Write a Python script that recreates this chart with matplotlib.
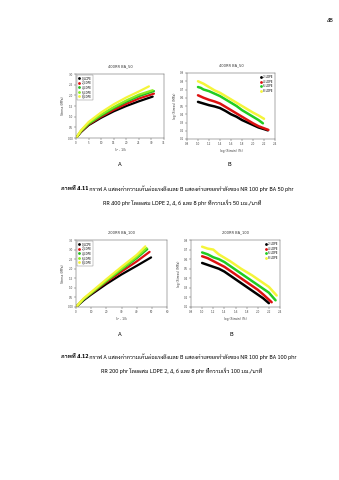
import matplotlib
matplotlib.use("Agg")
import matplotlib.pyplot as plt
from matplotlib import font_manager
from matplotlib.ft2font import FT2Font

# pick a font that has Thai glyphs, preferring the usual thesis-like faces
names = {f.name for f in font_manager.fontManager.ttflist}
THAI = None
for cand in ["Sarabun", "Noto Sans Thai", "Noto Sans Thai Looped", "Bai Jamjuree", "Anuphan"]:
    if cand in names:
        THAI = cand
        break
if THAI is None:
    for f in font_manager.fontManager.ttflist:
        try:
            if 0x0E01 in FT2Font(f.fname).get_charmap():
                THAI = f.name
                break
        except Exception:
            pass
FAM = ([THAI] if THAI else []) + ["DejaVu Sans"]

# ---- data: chart A (stress vs lambda term) ----
a_labels = ["0_LDPE", "2_LDPE", "4_LDPE", "6_LDPE", "8_LDPE"]
a_colors = ["black", "#dd1111", "#22bb22", "#88ee22", "#f5f53a"]

a1_x = [
    [0, 2, 5, 10, 15, 20, 25, 30.5],
    [0, 2, 5, 10, 15, 20, 25, 31],
    [0, 2, 5, 10, 15, 20, 25, 31],
    [0, 2, 5, 10, 15, 20, 25, 30.5],
    [0, 2, 5, 10, 15, 20, 25, 29],
]
a1_y = [
    [0, 0.28, 0.60, 0.95, 1.25, 1.50, 1.72, 1.94],
    [0, 0.30, 0.63, 1.00, 1.32, 1.60, 1.85, 2.08],
    [0, 0.32, 0.66, 1.05, 1.40, 1.70, 1.96, 2.20],
    [0, 0.34, 0.70, 1.10, 1.45, 1.76, 2.03, 2.24],
    [0, 0.36, 0.75, 1.20, 1.58, 1.90, 2.18, 2.42],
]

a2_x = [
    [0, 5, 10, 20, 30, 40, 49.5],
    [0, 5, 10, 20, 30, 40, 48.5],
    [0, 5, 10, 20, 30, 40, 47],
    [0, 5, 10, 20, 30, 40, 46.5],
    [0, 5, 10, 20, 30, 40, 45.7],
]
a2_y = [
    [0, 0.35, 0.65, 1.20, 1.70, 2.15, 2.59],
    [0, 0.40, 0.70, 1.30, 1.85, 2.38, 2.88],
    [0, 0.40, 0.72, 1.35, 1.95, 2.55, 3.02],
    [0, 0.42, 0.74, 1.38, 2.00, 2.62, 3.08],
    [0, 0.45, 0.78, 1.45, 2.10, 2.72, 3.17],
]

# ---- data: chart B (log-log) ----
b_labels = ["2 LDPE", "4 LDPE", "6 LDPE", "8 LDPE"]
b_colors = ["black", "#dd1111", "#22cc22", "#f5f53a"]

b1_x = [
    [1.0, 1.05, 1.1, 1.2, 1.3, 1.4, 1.5, 1.6, 1.7, 1.8, 1.9, 2.0, 2.1, 2.2, 2.27],
    [1.0, 1.1, 1.2, 1.3, 1.4, 1.5, 1.6, 1.7, 1.8, 1.9, 2.0, 2.1, 2.2, 2.28],
    [1.0, 1.05, 1.1, 1.2, 1.3, 1.4, 1.5, 1.6, 1.7, 1.8, 1.9, 2.0, 2.1, 2.18],
    [1.0, 1.1, 1.2, 1.3, 1.4, 1.5, 1.6, 1.7, 1.8, 1.9, 2.0, 2.1, 2.2],
]
b1_y = [
    [0.55, 0.54, 0.53, 0.51, 0.495, 0.475, 0.44, 0.40, 0.37, 0.33, 0.30, 0.27, 0.24, 0.22, 0.205],
    [0.63, 0.60, 0.575, 0.555, 0.53, 0.49, 0.45, 0.41, 0.37, 0.33, 0.29, 0.255, 0.23, 0.21],
    [0.73, 0.72, 0.70, 0.68, 0.65, 0.62, 0.58, 0.54, 0.50, 0.45, 0.41, 0.37, 0.33, 0.29],
    [0.80, 0.77, 0.73, 0.69, 0.66, 0.62, 0.58, 0.54, 0.50, 0.46, 0.42, 0.385, 0.345],
]

b2_x = [
    [1.0, 1.1, 1.2, 1.3, 1.4, 1.5, 1.6, 1.7, 1.8, 1.9, 2.0, 2.1, 2.2],
    [1.0, 1.1, 1.2, 1.3, 1.4, 1.5, 1.6, 1.7, 1.8, 1.9, 2.0, 2.1, 2.25],
    [1.0, 1.1, 1.2, 1.3, 1.4, 1.5, 1.6, 1.7, 1.8, 1.9, 2.0, 2.1, 2.2, 2.32],
    [1.0, 1.1, 1.2, 1.3, 1.4, 1.5, 1.6, 1.7, 1.8, 1.9, 2.0, 2.1, 2.2, 2.34],
]
b2_y = [
    [0.56, 0.54, 0.52, 0.50, 0.47, 0.43, 0.39, 0.35, 0.31, 0.27, 0.23, 0.19, 0.14],
    [0.63, 0.61, 0.58, 0.55, 0.52, 0.48, 0.44, 0.40, 0.36, 0.32, 0.28, 0.23, 0.15],
    [0.67, 0.65, 0.62, 0.60, 0.57, 0.53, 0.49, 0.45, 0.41, 0.37, 0.33, 0.29, 0.25, 0.17],
    [0.73, 0.71, 0.70, 0.65, 0.615, 0.58, 0.54, 0.50, 0.465, 0.43, 0.39, 0.35, 0.31, 0.22],
]

cap1 = ["ภาพที่ 4.11", " กราฟ A แสดงค่าความเค้นต่อแรงดึงและ B แสดงค่าเลขยกกำลังของ NR 100 phr BA 50 phr",
        "RR 400 phr โดยผสม LDPE 2, 4, 6 และ 8 phr ที่ความเร็ว 50 มม./นาที"]
cap2 = ["ภาพที่ 4.12", " กราฟ A แสดงค่าความเค้นต่อแรงดึงและ B แสดงค่าเลขยกกำลังของ NR 100 phr BA 100 phr",
        "RR 200 phr โดยผสม LDPE 2, 4, 6 และ 8 phr ที่ความเร็ว 100 มม./นาที"]

W, H = 339, 480
fig = plt.figure(figsize=(W / 100, H / 100), dpi=100)
fig.patch.set_facecolor("white")


def box(l, t, r, b):
    return [l / W, 1 - b / H, (r - l) / W, (b - t) / H]


def style(ax):
    for s in ax.spines.values():
        s.set_linewidth(0.35)
        s.set_color("#555555")
    ax.tick_params(labelsize=2.0, length=1.2, width=0.3, pad=0.8, colors="#444444")


def dot_legend(ax, loc, frame):
    leg = ax.legend(loc=loc, fontsize=2.0, frameon=frame, handlelength=0.6,
                    borderpad=0.4, labelspacing=0.2, fancybox=False,
                    borderaxespad=0.4, handletextpad=0.6)
    for h in leg.get_lines():
        h.set_linestyle("none")
        h.set_marker("o")
        h.set_markersize(1.0)
    if frame:
        leg.get_frame().set_linewidth(0.3)
        leg.get_frame().set_edgecolor("#555555")
    return leg


def chart_a(rect, xs, ys, xmax, xstep, ymax, title):
    ax = fig.add_axes(box(*rect))
    for x, y, c, lab in zip(xs, ys, a_colors, a_labels):
        ax.plot(x, y, "-", color=c, lw=1.6, label=lab, solid_capstyle="round")
    ax.set_xlim(0, xmax)
    ax.set_ylim(0, ymax)
    ax.set_xticks([i * xstep for i in range(int(xmax / xstep) + 1)])
    yt = [i * 0.5 for i in range(int(ymax / 0.5) + 1)]
    ax.set_yticks(yt)
    ax.set_yticklabels(["0.00"] + [f"{v:.1f}" for v in yt[1:]])
    ax.set_title(title, fontsize=2.6, pad=5, color="#333333")
    ax.set_xlabel("λ² - 1/λ", fontsize=2.2, labelpad=2, color="#333333")
    ax.set_ylabel("Stress (MPa)", fontsize=2.2, labelpad=2, color="#333333")
    style(ax)
    dot_legend(ax, "upper left", True)
    return ax


def chart_b(rect, xs, ys, ymin, ymax, title):
    ax = fig.add_axes(box(*rect))
    for x, y, c, lab in zip(xs, ys, b_colors, b_labels):
        ax.plot(x, y, "-", color=c, lw=1.8, label=lab, solid_capstyle="round")
    ax.set_xlim(0.8, 2.4)
    ax.set_ylim(ymin, ymax)
    ax.set_xticks([0.8, 1.0, 1.2, 1.4, 1.6, 1.8, 2.0, 2.2, 2.4])
    n = int(round((ymax - ymin) / 0.1))
    ax.set_yticks([round(ymin + 0.1 * i, 1) for i in range(n + 1)])
    ax.set_title(title, fontsize=2.6, pad=5, color="#333333")
    ax.set_xlabel("log (Strain) (%)", fontsize=2.2, labelpad=2, color="#333333")
    ax.set_ylabel("log (Stress) (MPa)", fontsize=2.2, labelpad=2, color="#333333")
    style(ax)
    dot_legend(ax, "upper right", False)
    return ax


chart_a((76, 74, 164, 138), a1_x, a1_y, 35, 5, 3.0, "400RR BA_50")
chart_b((187, 73, 275, 139), b1_x, b1_y, 0.1, 0.9, "400RR BA_50")
chart_a((76, 240, 167, 307), a2_x, a2_y, 60, 10, 3.5, "200RR BA_100")
chart_b((191, 240, 280, 307), b2_x, b2_y, 0.1, 0.8, "200RR BA_100")

# page number, panel letters
fig.text(334 / W, 1 - 21 / H, "48", fontsize=4.5, ha="right", va="center", family=FAM)
for x, y, s in [(120, 165, "A"), (229, 165, "B"), (120, 334, "A"), (231, 334, "B")]:
    fig.text(x / W, 1 - y / H, s, fontsize=4.5, ha="center", va="center", family=FAM)

# captions: bold figure number, then the rest of the first line
for cap, y1, y2 in [(cap1, 189, 203), (cap2, 357, 371)]:
    t = fig.text(61 / W, 1 - y1 / H, cap[0], fontsize=4.1, weight="bold",
                 ha="left", va="center", family=FAM)
    fig.canvas.draw()
    bb = t.get_window_extent()
    fig.text(bb.x1 / W, 1 - y1 / H, cap[1], fontsize=4.1, ha="left", va="center", family=FAM)
    fig.text(182 / W, 1 - y2 / H, cap[2], fontsize=4.1, ha="center", va="center", family=FAM)

fig.savefig("out.png", dpi=100)
